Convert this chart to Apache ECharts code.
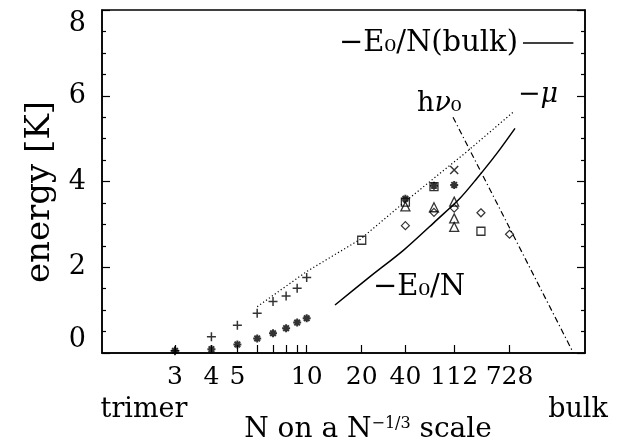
<!DOCTYPE html>
<html>
<head>
<meta charset="utf-8">
<script src="https://cdn.jsdelivr.net/npm/echarts@6/dist/echarts.min.js"></script>
<style>
  html, body { margin: 0; padding: 0; background: #fff; }
  #main { width: 627px; height: 443px; }
</style>
</head>
<body>
<div id="main"></div>
<script>
var myChart = echarts.init(document.getElementById('main'));

// cluster sizes N for the small clusters
var smallN = [3, 4, 5, 6, 7, 8, 9, 10];
var plusE = [0.05, 0.38, 0.65, 0.93, 1.20, 1.33, 1.51, 1.76];   // -mu (small N)
var starE = [0.05, 0.09, 0.20, 0.34, 0.46, 0.58, 0.71, 0.81];   // -E0/N (small N)

// larger clusters: [N, energy]
var asteriskPts = [[40, 3.60], [70, 3.90], [112, 3.92]];
var crossPts = [[112, 4.27]];
var squarePts = [[20, 2.63], [40, 3.52], [70, 3.88], [240, 2.84]];
var trianglePts = [[40, 3.42], [70, 3.40], [112, 3.53], [112, 3.14], [112, 2.94]];
var diamondPts = [[40, 2.97], [70, 3.28], [112, 3.38], [240, 3.27], [728, 2.77]];

// curves, x given directly as N^(-1/3)
var muX = [0.5503, 0.4642, 0.371, 0.293, 0.186, 0.1046];
var muY = [1.08, 1.90, 2.65, 3.53, 4.69, 5.62];
var e0X = [0.4149, 0.354, 0.2954, 0.238, 0.1973, 0.168, 0.1335, 0.1016];
var e0Y = [1.12, 1.78, 2.40, 3.10, 3.61, 4.07, 4.65, 5.24];
var hnuX = [0.2095, 0];
var hnuY = [5.50, 0];
var bulkX = [0.0877, 0];
var bulkY = [7.23, 7.23];

// axis ticks
var tickN = [3, 4, 5, 6, 7, 8, 9, 10, 20, 40, 112, 728];
var labelN = [3, 4, 5, 10, 20, 40, 112, 728];

function toX(n) { return Math.pow(n, -1 / 3); }
function pairs(xs, ys) { return xs.map(function (x, i) { return [x, ys[i]]; }); }
function ptsX(list) { return list.map(function (p) { return [toX(p[0]), p[1]]; }); }

var FONT = 'DejaVu Serif';
var PLUS = 'path://M0,5H10M5,0V10';
var CROSS = 'path://M0,0L10,10M10,0L0,10';
var ASTER = 'path://M0,5H10M5,0V10M1.5,1.5L8.5,8.5M8.5,1.5L1.5,8.5';

function markers(data, symbol, size, bw) {
    return {
        type: 'scatter',
        data: data,
        symbol: symbol,
        symbolSize: size,
        itemStyle: { color: 'none', borderColor: '#000', borderWidth: bw },
        z: 3
    };
}
function curve(data, type, width, smooth) {
    return {
        type: 'line',
        data: data,
        showSymbol: false,
        symbol: 'none',
        smooth: smooth || false,
        lineStyle: { color: '#000', width: width, type: type },
        z: 2
    };
}

var yAxisBase = {
    type: 'value',
    min: 0,
    max: 8,
    interval: 2,
    axisLine: { show: true, onZero: false, lineStyle: { color: '#000', width: 1.5 } },
    axisTick: { show: true, inside: true, length: 8, lineStyle: { color: '#000', width: 1.2 } },
    minorTick: { show: true, splitNumber: 4, length: 4, lineStyle: { color: '#000', width: 1.2 } },
    splitLine: { show: false }
};

option = {
    animation: false,
    backgroundColor: '#fff',
    grid: { left: 102, right: 42, top: 10, bottom: 90, show: true, borderColor: '#000', borderWidth: 1.5 },
    xAxis: {
        type: 'value',
        inverse: true,
        min: -0.0202,
        max: 0.8204,
        axisLine: { show: true, onZero: false, lineStyle: { color: '#000', width: 1.5 } },
        axisTick: { show: true, inside: true, length: 8, customValues: tickN.map(toX), lineStyle: { color: '#000', width: 1.2 } },
        axisLabel: {
            customValues: labelN.map(toX),
            formatter: function (v) { return String(Math.round(Math.pow(v, -3))); },
            fontFamily: FONT, fontSize: 25, color: '#000', margin: 12
        },
        splitLine: { show: false }
    },
    yAxis: [
        Object.assign({}, yAxisBase, {
            position: 'left',
            axisLabel: {
                fontFamily: FONT, fontSize: 27, color: '#000', margin: 16,
                verticalAlignMaxLabel: 'top', verticalAlignMinLabel: 'bottom'
            }
        }),
        Object.assign({}, yAxisBase, { position: 'right', axisLabel: { show: false } })
    ],
    series: [
        curve(pairs(muX, muY), [1.2, 2.4], 1.2),
        curve(pairs(e0X, e0Y), 'solid', 1.5, 0.3),
        curve(pairs(hnuX, hnuY), [6, 3, 1.2, 3], 1.2),
        curve(pairs(bulkX, bulkY), 'solid', 1.5),
        markers(smallN.map(function (n, i) { return [toX(n), plusE[i]]; }), PLUS, 9, 1.5),
        markers(smallN.map(function (n, i) { return [toX(n), starE[i]]; }), ASTER, 8, 2),
        markers(ptsX(asteriskPts), ASTER, 8, 2),
        markers(ptsX(crossPts), CROSS, 8, 1.5),
        markers(ptsX(squarePts), 'rect', 8, 1.3),
        markers(ptsX(trianglePts), 'triangle', 9, 1.3),
        markers(ptsX(diamondPts), 'diamond', 8, 1.2)
    ],
    graphic: [
        { type: 'text', x: 518, y: 43, style: { text: '−E₀/N(bulk)', font: '29px ' + FONT, fill: '#000', align: 'right', verticalAlign: 'middle' } },
        { type: 'text', x: 518, y: 95, style: { text: '−{it|μ}', font: '27px ' + FONT, fill: '#000', verticalAlign: 'middle', rich: { it: { fontStyle: 'italic', fontFamily: FONT, fontSize: 27 } } } },
        { type: 'text', x: 417, y: 104, style: { text: 'h{it|ν}₀', font: '27px ' + FONT, fill: '#000', verticalAlign: 'middle', rich: { it: { fontStyle: 'italic', fontFamily: FONT, fontSize: 27 } } } },
        { type: 'text', x: 373, y: 287, style: { text: '−E₀/N', font: '29px ' + FONT, fill: '#000', verticalAlign: 'middle' } },
        { type: 'text', x: 40, y: 192, rotation: Math.PI / 2, style: { text: 'energy [K]', font: '34px ' + FONT, fill: '#000', align: 'center', verticalAlign: 'middle' } },
        { type: 'text', x: 144, y: 410, style: { text: 'trimer', font: '27px ' + FONT, fill: '#000', align: 'center', verticalAlign: 'middle' } },
        { type: 'text', x: 578, y: 410, style: { text: 'bulk', font: '27px ' + FONT, fill: '#000', align: 'center', verticalAlign: 'middle' } },
        { type: 'text', x: 368, y: 430, style: { text: 'N on a N{sup|−1/3} scale', font: '28px ' + FONT, fill: '#000', align: 'center', verticalAlign: 'middle', rich: { sup: { fontFamily: FONT, fontSize: 16, verticalAlign: 'top', padding: [0, 0, 10, 0] } } } }
    ]
};

myChart.setOption(option);
</script>
</body>
</html>
